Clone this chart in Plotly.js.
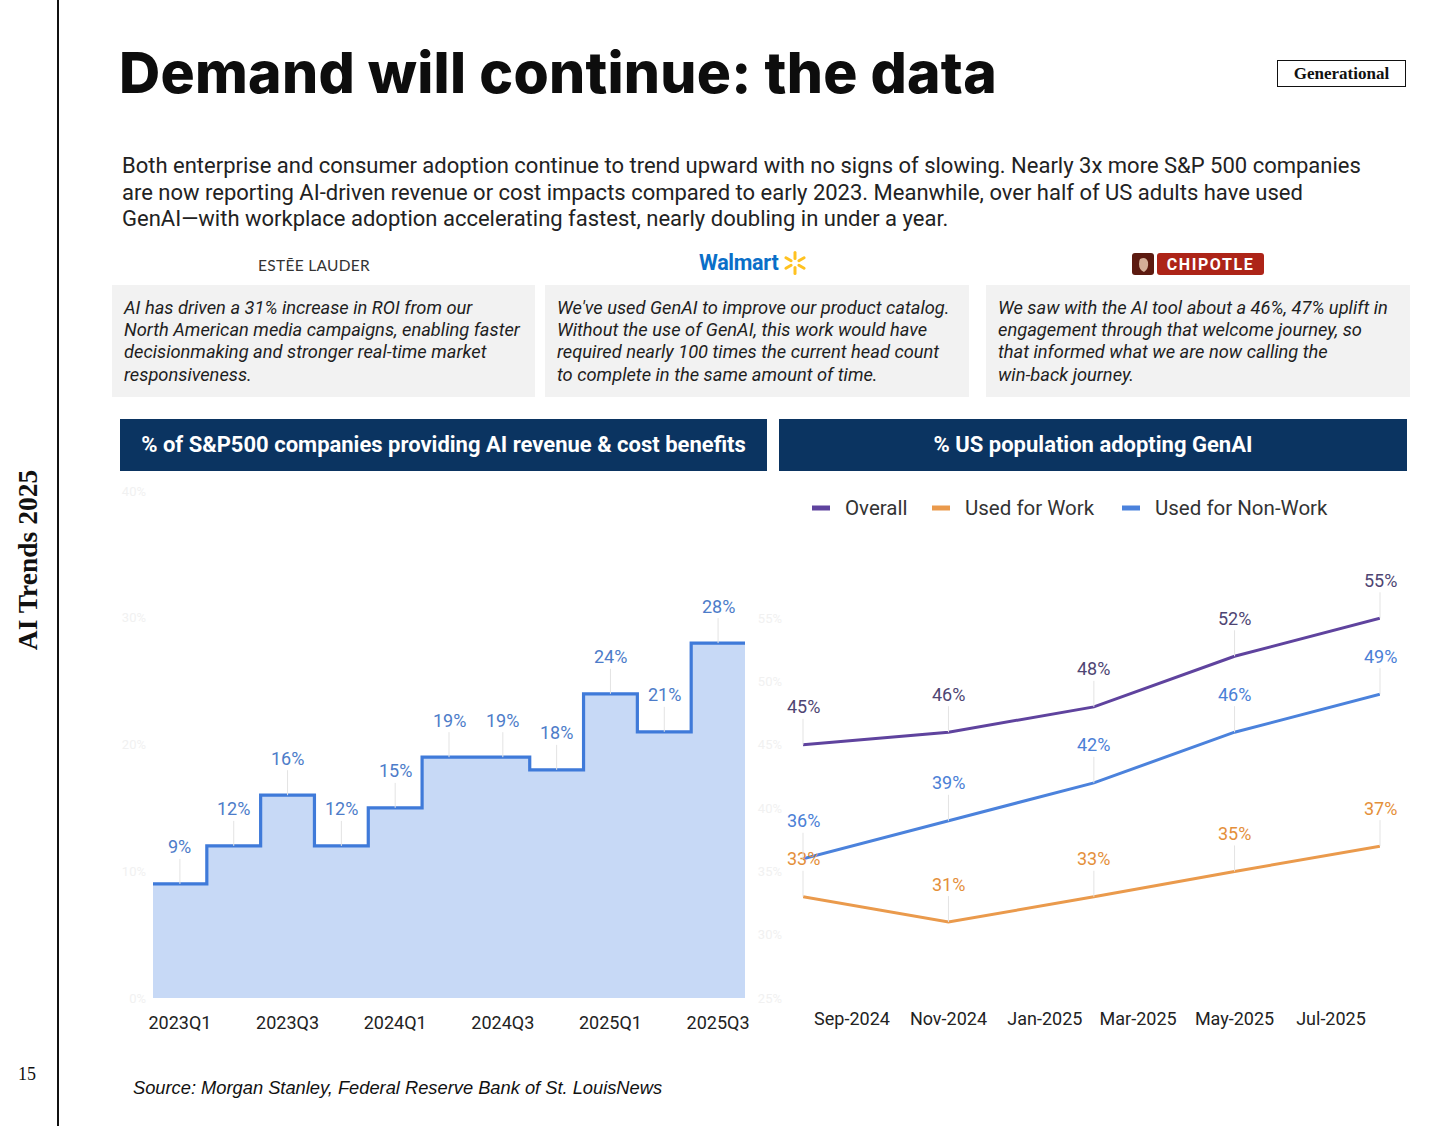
<!DOCTYPE html>
<html>
<head>
<meta charset="utf-8">
<script src="https://cdn.plot.ly/plotly-3.0.1.min.js"></script>
<style>
  html,body{margin:0;padding:0;background:#fff;}
  body{width:1456px;height:1126px;position:relative;overflow:hidden;font-family:Roboto,"Noto Sans",sans-serif;color:#1f1f1f;}
  .abs{position:absolute;}
  #rule{left:57px;top:0;width:2px;height:1126px;background:#111;}
  #side{left:28px;top:560px;transform:translate(-50%,-50%) rotate(-90deg);font-family:"Liberation Serif",serif;font-weight:bold;font-size:27.5px;white-space:nowrap;color:#111;}
  #pnum{left:18px;top:1064px;font-family:"Liberation Serif",serif;font-size:18px;color:#111;}
  #title{left:119px;top:40px;font-family:Inter,sans-serif;font-weight:800;font-size:57px;white-space:nowrap;color:#0d0d0d;line-height:66px;}
  #gen{left:1277px;top:60px;width:127px;height:25px;border:1.6px solid #111;font-family:"Liberation Serif",serif;font-weight:bold;font-size:17px;text-align:center;line-height:26px;color:#111;}
  #para{left:122px;top:153px;font-size:22px;line-height:26.5px;color:#222;white-space:nowrap;}
  #estee{left:214px;width:200px;text-align:center;top:256px;font-family:Lato,sans-serif;font-size:15.5px;letter-spacing:0.3px;color:#333;font-weight:400;}
  #walmart{left:699px;top:250px;font-family:Roboto,sans-serif;font-weight:bold;font-size:21.5px;color:#0a6fc8;letter-spacing:-0.3px;}
  #chip{left:1132px;top:252px;}
  .qbox{top:285px;height:112px;background:#f2f2f2;}
  .qtext{position:absolute;left:12px;top:12px;font-style:italic;font-size:18.3px;line-height:22.2px;color:#1e1e1e;white-space:nowrap;}
  .hdr{top:419px;height:52px;background:#0b3461;color:#fff;font-weight:bold;font-size:22px;text-align:center;line-height:52px;}
  #src{left:133px;top:1077px;font-family:"Liberation Sans",Arial,sans-serif;font-style:italic;font-size:18.3px;color:#111;}
  #chartL{left:95px;top:475px;width:675px;height:570px;}
  #chartR{left:740px;top:475px;width:680px;height:570px;}
</style>
</head>
<body>
<div id="rule" class="abs"></div>
<div id="side" class="abs">AI Trends 2025</div>
<div id="pnum" class="abs">15</div>
<div id="title" class="abs">Demand will continue: the data</div>
<div id="gen" class="abs">Generational</div>
<div id="para" class="abs">Both enterprise and consumer adoption continue to trend upward with no signs of slowing. Nearly 3x more S&amp;P 500 companies<br>are now reporting AI-driven revenue or cost impacts compared to early 2023. Meanwhile, over half of US adults have used<br>GenAI—with workplace adoption accelerating fastest, nearly doubling in under a year.</div>

<div id="estee" class="abs">ESTĒE LAUDER</div>
<div id="walmart" class="abs">Walmart<svg width="28" height="26" viewBox="-13 -13 26 26" style="vertical-align:-6px;margin-left:3px"><g stroke="#ffc220" stroke-width="3" stroke-linecap="round"><line x1="0" y1="-4.5" x2="0" y2="-10.5"/><line x1="0" y1="4.5" x2="0" y2="10.5"/><line x1="3.9" y1="-2.3" x2="9.1" y2="-5.3"/><line x1="-3.9" y1="-2.3" x2="-9.1" y2="-5.3"/><line x1="3.9" y1="2.3" x2="9.1" y2="5.3"/><line x1="-3.9" y1="2.3" x2="-9.1" y2="5.3"/></g></svg></div>
<div id="chip" class="abs"><svg width="134" height="24"><rect x="0" y="1" width="22" height="22" rx="3" fill="#5c1a10"/><path d="M8 7 q6 -3 8 3 q1 7 -4 10 q-5 -2 -5 -8 q0 -3 1 -5z" fill="#e9c9b0" opacity="0.85"/><rect x="25" y="1" width="107" height="22" rx="3" fill="#ad2418"/><text x="78.5" y="18" text-anchor="middle" font-family="Roboto,sans-serif" font-weight="bold" font-size="16" letter-spacing="1.6" fill="#fff">CHIPOTLE</text></svg></div>

<div class="abs qbox" style="left:112px;width:423px;"><div class="qtext">AI has driven a 31% increase in ROI from our<br>North American media campaigns, enabling faster<br>decisionmaking and stronger real-time market<br>responsiveness.</div></div>
<div class="abs qbox" style="left:545px;width:424px;"><div class="qtext">We've used GenAI to improve our product catalog.<br>Without the use of GenAI, this work would have<br>required nearly 100 times the current head count<br>to complete in the same amount of time.</div></div>
<div class="abs qbox" style="left:986px;width:424px;"><div class="qtext">We saw with the AI tool about a 46%, 47% uplift in<br>engagement through that welcome journey, so<br>that informed what we are now calling the<br>win-back journey.</div></div>

<div class="abs hdr" style="left:120px;width:647px;">% of S&amp;P500 companies providing AI revenue &amp; cost benefits</div>
<div class="abs hdr" style="left:779px;width:628px;">% US population adopting GenAI</div>

<div id="chartL" class="abs"></div>
<div id="chartR" class="abs"></div>

<div id="src" class="abs">Source: Morgan Stanley, Federal Reserve Bank of St. LouisNews</div>

<script>
// ---------- data ----------
const quarters = ['2023Q1','2023Q2','2023Q3','2023Q4','2024Q1','2024Q2','2024Q3','2024Q4','2025Q1','2025Q2','2025Q3'];
const spShare = [9, 12, 16, 12, 15, 19, 19, 18, 24, 21, 28];
const spYTicks = [0, 10, 20, 30, 40];

const surveyMonths = ['2024-08-01','2024-11-01','2025-02-01','2025-05-01','2025-08-01'];
const overall = [45, 46, 48, 52, 55];
const usedForWork = [33, 31, 33, 35, 37];
const usedForNonWork = [36, 39, 42, 46, 49];
const genaiYTicks = [25, 30, 35, 40, 45, 50, 55];
const seriesNames = ['Overall', 'Used for Work', 'Used for Non-Work'];

// ---------- fit title width ----------
(function(){
  const t = document.getElementById('title');
  const target = 878;
  const w = t.getBoundingClientRect().width;
  const n = t.textContent.length;
  t.style.letterSpacing = ((target - w) / n) + 'px';
})();

// ---------- left chart ----------
const idx = quarters.map((q, i) => i);
const stepX = idx.map(i => i - 0.5).concat([quarters.length - 0.5]);
const stepY = spShare.concat([spShare[spShare.length - 1]]);

const leftAnn = spShare.map((v, i) => ({
  x: i, y: v, xref: 'x', yref: 'y', text: v + '%',
  showarrow: true, arrowhead: 0, arrowwidth: 1, arrowcolor: '#e3e3e3',
  ax: 0, ay: -37, standoff: 0,
  font: {family: 'Roboto, sans-serif', size: 18, color: '#4d7cc9'}
}));

Plotly.newPlot('chartL', [{
  x: stepX, y: stepY, type: 'scatter', mode: 'lines',
  line: {shape: 'hv', color: '#3f7ad9', width: 3.2},
  fill: 'tozeroy', fillcolor: '#c7d9f6', hoverinfo: 'skip', showlegend: false
}], {
  width: 675, height: 570,
  margin: {l: 58, r: 25, t: 16, b: 47},
  paper_bgcolor: 'rgba(0,0,0,0)', plot_bgcolor: 'rgba(0,0,0,0)',
  font: {family: 'Roboto, sans-serif'},
  xaxis: {
    range: [-0.5, quarters.length - 0.5], showgrid: false, zeroline: false, showline: false,
    tickmode: 'array',
    tickvals: idx.filter(i => i % 2 === 0),
    ticktext: quarters.filter((q, i) => i % 2 === 0),
    tickfont: {size: 18, color: '#222'}, ticks: '', ticklabelstandoff: 12
  },
  yaxis: {
    range: [0, 40], showgrid: false, zeroline: false, showline: false,
    tickmode: 'array', tickvals: spYTicks, ticktext: spYTicks.map(v => v + '%'),
    tickfont: {size: 13, color: '#f1f1f1'}, ticks: '', ticklabelstandoff: 6
  },
  annotations: leftAnn
}, {displayModeBar: false, staticPlot: true});

// ---------- right chart ----------
const seriesValues = [overall, usedForWork, usedForNonWork];
const lineColors = ['#5f439e', '#ea9a4c', '#4b82dc'];
const labelColors = ['#4e4573', '#e48f3a', '#4b80d6'];

const rightTraces = seriesValues.map((ys, k) => ({
  x: surveyMonths, y: ys, name: seriesNames[k], type: 'scatter', mode: 'lines',
  line: {color: lineColors[k], width: 3}, hoverinfo: 'skip', showlegend: false
}));
const rightAnn = [];
seriesValues.forEach((ys, k) => ys.forEach((v, i) => rightAnn.push({
  x: surveyMonths[i], y: v, xref: 'x', yref: 'y', text: v + '%',
  showarrow: true, arrowhead: 0, arrowwidth: 1, arrowcolor: '#e3e3e3',
  ax: 0, ay: -38, standoff: 0,
  font: {family: 'Roboto, sans-serif', size: 18, color: labelColors[k]}
})));

// custom legend (short swatches like the reference), placed in page pixels
const plotX0 = 803, plotW = 577, plotY0 = 555, plotH = 443;
const legendSwatchX = [812, 932, 1122];
const legendY = 508;
const toPX = px => (px - plotX0) / plotW;
const toPY = py => 1 - (py - plotY0) / plotH;
const legendShapes = seriesNames.map((n, k) => ({
  type: 'rect', xref: 'paper', yref: 'paper',
  x0: toPX(legendSwatchX[k]), x1: toPX(legendSwatchX[k] + 18),
  y0: toPY(legendY + 2.5), y1: toPY(legendY - 2.5),
  fillcolor: lineColors[k], line: {width: 0}
}));
seriesNames.forEach((n, k) => rightAnn.push({
  xref: 'paper', yref: 'paper', x: toPX(legendSwatchX[k] + 31), y: toPY(legendY),
  xanchor: 'left', yanchor: 'middle', showarrow: false, text: n,
  font: {family: 'Roboto, sans-serif', size: 20.5, color: '#333'}
}));

Plotly.newPlot('chartR', rightTraces, {
  width: 680, height: 570,
  margin: {l: 63, r: 40, t: 80, b: 47},
  paper_bgcolor: 'rgba(0,0,0,0)', plot_bgcolor: 'rgba(0,0,0,0)',
  font: {family: 'Roboto, sans-serif'},
  showlegend: false,
  xaxis: {
    type: 'date', range: [surveyMonths[0], surveyMonths[surveyMonths.length - 1]],
    tick0: '2024-09-01', dtick: 'M2', tickformat: '%b-%Y',
    showgrid: false, zeroline: false, showline: false, ticks: '',
    tickfont: {size: 18, color: '#222'}, ticklabelstandoff: 8
  },
  yaxis: {
    range: [25, 60], showgrid: false, zeroline: false, showline: false,
    tickmode: 'array', tickvals: genaiYTicks, ticktext: genaiYTicks.map(v => v + '%'),
    tickfont: {size: 13, color: '#f1f1f1'}, ticks: '', ticklabelstandoff: 20
  },
  shapes: legendShapes,
  annotations: rightAnn
}, {displayModeBar: false, staticPlot: true});
</script>
</body>
</html>
